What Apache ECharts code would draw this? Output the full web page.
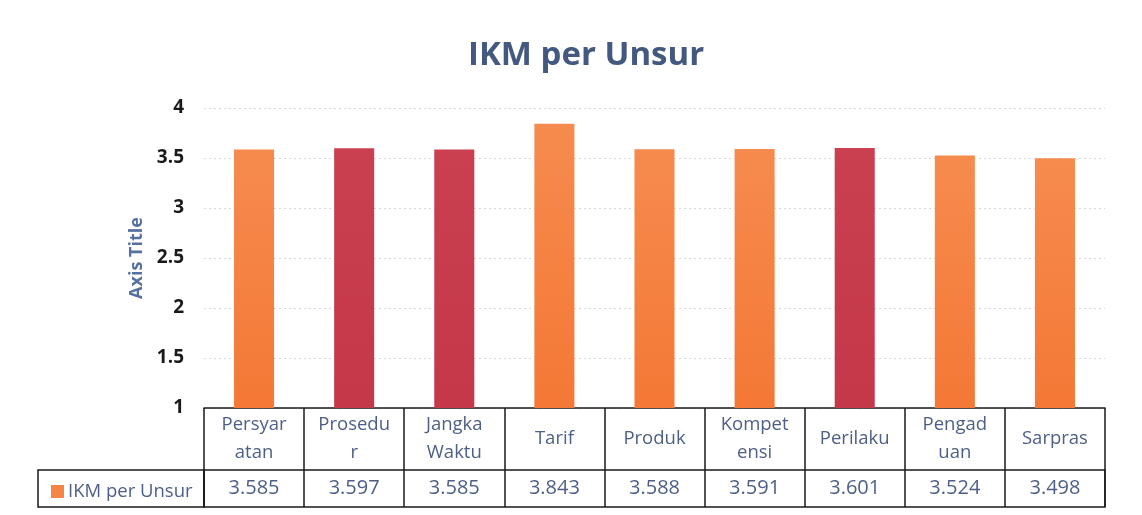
<!DOCTYPE html>
<html>
<head>
<meta charset="utf-8">
<script src="https://cdn.jsdelivr.net/npm/echarts@6/dist/echarts.min.js"></script>
<style>
html,body{margin:0;padding:0;background:#fff;}
#chart{width:1142px;height:515px;}
</style>
</head>
<body>
<div id="chart"></div>
<script>
// ---- data ----
const titleText = 'IKM per Unsur';
const seriesName = 'IKM per Unsur';
const categories = ['Persyaratan', 'Prosedur', 'Jangka Waktu', 'Tarif', 'Produk', 'Kompetensi', 'Perilaku', 'Pengaduan', 'Sarpras'];
const headerLabels = ['Persyar\natan', 'Prosedu\nr', 'Jangka\nWaktu', 'Tarif', 'Produk', 'Kompet\nensi', 'Perilaku', 'Pengad\nuan', 'Sarpras'];
const values = [3.585, 3.597, 3.585, 3.843, 3.588, 3.591, 3.601, 3.524, 3.498];
const redCategories = ['Prosedur', 'Jangka Waktu', 'Perilaku'];
const yTicks = { min: 1, max: 4, interval: 0.5 };
const yAxisName = 'Axis Title';

// ---- styles ----
const FONT = '"Open Sans", "Noto Sans", sans-serif';
const TABLE_TEXT = '#4d5f86';
const orange = new echarts.graphic.LinearGradient(0, 0, 0, 1, [
  { offset: 0, color: '#f68b4e' }, { offset: 1, color: '#f47836' }
]);
const red = new echarts.graphic.LinearGradient(0, 0, 0, 1, [
  { offset: 0, color: '#ca4050' }, { offset: 1, color: '#c4384a' }
]);
const border = { color: '#1a1a1a', width: 1.5 };

const chart = echarts.init(document.getElementById('chart'), null, { renderer: 'canvas' });

chart.setOption({
  backgroundColor: '#fff',
  animation: false,
  textStyle: { fontFamily: FONT },
  title: {
    text: titleText,
    left: 463,
    top: 34,
    textStyle: { fontFamily: FONT, fontSize: 33, fontWeight: 'bold', color: '#44597f' }
  },
  legend: {
    data: [seriesName],
    left: 46,
    top: 477,
    icon: 'rect',
    itemWidth: 13,
    itemHeight: 13,
    itemGap: 4,
    selectedMode: false,
    itemStyle: { color: '#f58447' },
    textStyle: { fontFamily: FONT, fontSize: 18.5, color: TABLE_TEXT, padding: [0, 0, 0, -1] }
  },
  grid: [
    { left: 204, right: 37, top: 108, bottom: 107, containLabel: false },
    { left: 204, right: 37, top: 470, height: 37, show: true, borderColor: border.color, borderWidth: border.width, backgroundColor: 'transparent' },
    { left: 38, width: 166, top: 470, height: 37, show: true, borderColor: border.color, borderWidth: border.width, backgroundColor: 'transparent' }
  ],
  xAxis: [
    {
      gridIndex: 0,
      type: 'category',
      data: categories,
      axisLine: { show: true, lineStyle: { color: border.color, width: border.width } },
      axisTick: { show: true, interval: 0, alignWithLabel: false, length: 62, lineStyle: { color: border.color, width: border.width } },
      axisLabel: {
        interval: 0,
        margin: 31,
        verticalAlign: 'middle',
        lineHeight: 28,
        fontFamily: FONT,
        fontSize: 18.5,
        color: TABLE_TEXT,
        formatter: (v, i) => headerLabels[i]
      },
      splitLine: { show: false }
    },
    {
      gridIndex: 1,
      type: 'category',
      data: categories,
      position: 'top',
      axisLine: { show: false },
      axisTick: { show: false },
      axisLabel: {
        inside: true,
        interval: 0,
        margin: 18,
        verticalAlign: 'middle',
        fontFamily: FONT,
        fontSize: 20,
        color: TABLE_TEXT,
        formatter: (v, i) => values[i].toFixed(3)
      },
      splitLine: { show: true, interval: 0, lineStyle: { color: border.color, width: border.width, type: 'solid' } }
    },
    { gridIndex: 2, type: 'value', show: false }
  ],
  yAxis: [
    {
      gridIndex: 0,
      type: 'value',
      min: yTicks.min,
      max: yTicks.max,
      interval: yTicks.interval,
      name: yAxisName,
      nameLocation: 'middle',
      nameGap: 58,
      nameTextStyle: { fontFamily: FONT, fontSize: 18, fontWeight: 'bold', color: '#5571a0' },
      axisLine: { show: false },
      axisTick: { show: false },
      axisLabel: { margin: 20, fontFamily: FONT, fontSize: 19, fontWeight: 'bold', color: '#1a1a1a' },
      splitLine: { show: true, lineStyle: { color: '#d8d8d8', width: 1, type: [2, 3] } }
    },
    { gridIndex: 1, type: 'value', show: false },
    { gridIndex: 2, type: 'value', show: false }
  ],
  series: [
    {
      name: seriesName,
      type: 'bar',
      xAxisIndex: 0,
      yAxisIndex: 0,
      barWidth: '40%',
      itemStyle: { color: orange },
      data: values.map((v, i) => ({
        value: v,
        itemStyle: { color: redCategories.includes(categories[i]) ? red : orange }
      }))
    }
  ]
});
</script>
</body>
</html>
